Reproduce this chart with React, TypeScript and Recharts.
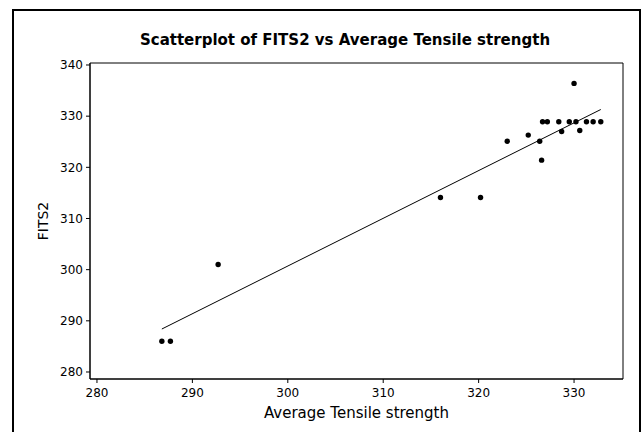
import React from 'react';
import { ScatterChart, Scatter, XAxis, YAxis, ReferenceArea, Label } from 'recharts';

const tensile = [286.8, 287.7, 292.7, 316.0, 320.2, 323.0, 325.2, 326.4, 326.6, 326.7, 327.2, 328.4, 328.7, 329.5, 330.0, 330.2, 330.6, 331.3, 332.0, 332.8];
const fits2 = [286.0, 286.0, 301.0, 314.1, 314.1, 325.1, 326.3, 325.1, 321.4, 328.9, 328.9, 328.9, 327.0, 328.9, 336.4, 328.9, 327.2, 328.9, 328.9, 328.9];
const fitLineX = [286.8, 332.8];
const fitLineY = [288.4, 331.3];
const xTicks = [280, 290, 300, 310, 320, 330];
const yTicks = [280, 290, 300, 310, 320, 330, 340];
const xDomain = [279.27, 335.13];
const yDomain = [278.63, 340.39];

const points = tensile.map((x, i) => ({ x, y: fits2[i] }));
const fitLine = fitLineX.map((x, i) => ({ x, y: fitLineY[i] }));

const FONT = '"DejaVu Sans", Tahoma, sans-serif';

const Dot = (props: any) => <circle cx={props.cx} cy={props.cy} r={2.7} fill="#000" />;
const NoDot = () => <g />;

export default function App() {
  return (
    <div style={{ position: 'absolute', left: 0, top: 0, width: 641, height: 432, background: '#fff', overflow: 'hidden' }}>
      <div
        style={{
          position: 'absolute',
          left: 12,
          top: 9,
          width: 625,
          height: 440,
          borderTop: '2px solid #000',
          borderLeft: '2px solid #000',
          borderRight: '2px solid #000',
        }}
      />
      <div
        style={{
          position: 'absolute',
          left: 40,
          width: 610,
          top: 31,
          textAlign: 'center',
          fontFamily: FONT,
          fontWeight: 'bold',
          fontSize: 15,
          color: '#000',
          whiteSpace: 'nowrap',
        }}
      >
        Scatterplot of FITS2 vs Average Tensile strength
      </div>
      <ScatterChart width={641} height={432} margin={{ top: 63, right: 18, bottom: 0, left: 0 }} style={{ position: 'absolute', left: 0, top: 0 }}>
        <XAxis
          type="number"
          dataKey="x"
          domain={xDomain}
          ticks={xTicks}
          allowDataOverflow
          height={53}
          tickSize={4}
          tickMargin={5}
          stroke="#000"
          tick={{ fill: '#000', fontSize: 12, fontFamily: FONT }}
        >
          <Label
            content={(p: any) => (
              <text
                x={p.viewBox.x + p.viewBox.width / 2}
                y={p.viewBox.y + 39}
                textAnchor="middle"
                fontFamily={FONT}
                fontSize={15}
                fill="#000"
              >
                Average Tensile strength
              </text>
            )}
          />
        </XAxis>
        <YAxis
          type="number"
          dataKey="y"
          domain={yDomain}
          ticks={yTicks}
          allowDataOverflow
          width={90}
          tickSize={4}
          tickMargin={3}
          stroke="#000"
          tick={{ fill: '#000', fontSize: 12, fontFamily: FONT }}
        >
          <Label
            content={(p: any) => {
              const cx = 48;
              const cy = p.viewBox.y + p.viewBox.height / 2;
              return (
                <text
                  x={cx}
                  y={cy}
                  transform={`rotate(-90, ${cx}, ${cy})`}
                  textAnchor="middle"
                  fontFamily={FONT}
                  fontSize={14}
                  fill="#000"
                >
                  FITS2
                </text>
              );
            }}
          />
        </YAxis>
        <ReferenceArea x1={xDomain[0]} x2={xDomain[1]} y1={yDomain[0]} y2={yDomain[1]} fill="none" stroke="#000" strokeWidth={1} ifOverflow="visible" />
        <Scatter data={fitLine} line={{ stroke: '#000', strokeWidth: 1 }} shape={NoDot} isAnimationActive={false} />
        <Scatter data={points} shape={Dot} isAnimationActive={false} />
      </ScatterChart>
    </div>
  );
}
